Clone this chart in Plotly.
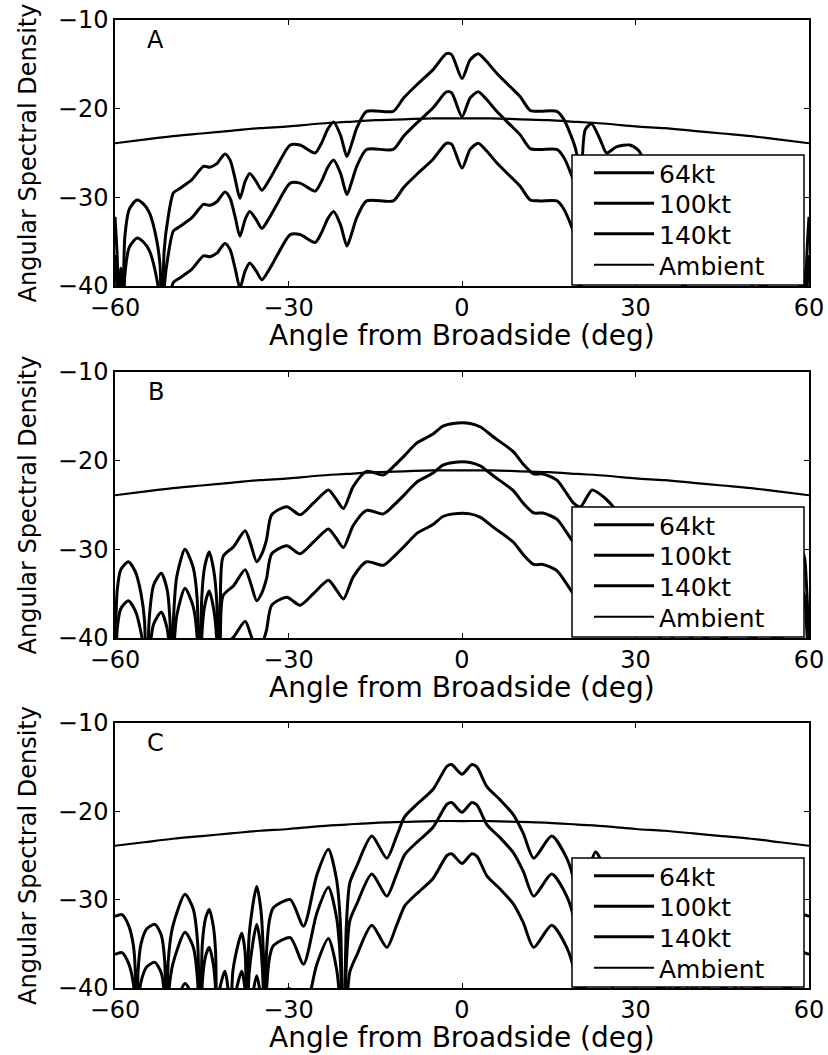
import plotly.graph_objects as go

W, H = 828, 1055

# ---------------- data ----------------
x_ticks = [-60, -30, 0, 30, 60]
y_ticks = [-40, -30, -20, -10]
legend_names = ["64kt", "100kt", "140kt", "Ambient"]
panel_letters = ["A", "B", "C"]
x_title = "Angle from Broadside (deg)"
y_title = "Angular Spectral Density"

# Panel A
angle_a = [-60, -59.6, -59.3, -59.0, -58.7, -58.3, -57.5, -56.2, -55, -54, -52.8, -52.2, -51.9, -51.5,
           -50.8, -49.9, -48.8, -46.7, -44.7, -43.6, -42.4, -41, -40.1, -39.2, -38.4, -37.5, -36.7,
           -35.6, -34.6, -33.3, -32.0, -29.7, -28.0, -25.4, -24.3, -23.2, -22.2, -21.0, -19.9, -19.0,
           -18.2, -16.5, -11.9, -10.1, -7.8, -5.0, -2.7, -1.8, 0, 1.4, 2.8, 4.3, 6.0, 8.3, 10.0, 11.8,
           13.5, 16.4, 17.5, 18.7, 19.8, 20.3, 21.3, 22.4, 23.9, 25.0, 26.7, 29.0, 30.5, 32.0, 34.6,
           36.7, 38.4, 40.1, 41.0, 42.4, 43.6, 44.7, 46.7, 48.8, 49.9, 50.8, 51.5, 51.9, 52.2, 52.8,
           54, 55, 56.2, 57.5, 58.3, 58.7, 59.0, 59.3, 59.6, 60]
a_140kt = [-32.2, -37, -48, -38, -48, -34.5, -31.3, -30.3, -30.8, -31.8, -34.8, -37.8, -50, -36,
           -32.2, -29.5, -29.0, -28.0, -26.5, -26.6, -26.2, -25.1, -25.8, -28.0, -30.1, -28.2, -27.3,
           -28.2, -29.2, -28.0, -26.5, -24.1, -24.1, -25.0, -23.9, -22.3, -21.5, -23.0, -25.4, -23.8,
           -22.2, -20.3, -20.3, -18.8, -17.3, -15.6, -13.8, -13.9, -16.6, -14.5, -13.8, -14.7, -16.0,
           -17.5, -18.6, -20.2, -20.3, -20.3, -21.1, -22.8, -25.0, -45, -22.4, -21.7, -23.5, -25.0,
           -24.3, -24.1, -24.7, -26.5, -29.2, -27.3, -30.1, -26.5, -26.0, -26.5, -26.8, -26.8, -28.0,
           -29.0, -29.5, -32.2, -36, -50, -37.8, -34.8, -31.8, -30.8, -30.3, -31.3, -34.5, -48, -38,
           -48, -37, -32.2]
a_100kt = [-36.5, -41.3, -52.3, -42.3, -52.3, -38.8, -35.6, -34.6, -35.1, -36.1, -39.1, -42.1, -54.3,
           -40.3, -36.5, -33.8, -33.3, -32.3, -30.8, -30.9, -30.5, -29.4, -30.1, -32.3, -34.4, -32.5,
           -31.6, -32.5, -33.5, -32.3, -30.8, -28.4, -28.4, -29.3, -28.2, -26.6, -25.8, -27.3, -29.7,
           -28.1, -26.5, -24.6, -24.6, -23.1, -21.6, -19.9, -18.1, -18.2, -20.9, -18.8, -18.1, -19.0,
           -20.3, -21.8, -22.9, -24.5, -24.6, -24.6, -25.4, -27.1, -29.3, -49.3, -26.7, -26.0, -27.8,
           -29.3, -28.6, -28.4, -29.0, -30.8, -33.5, -31.6, -34.4, -30.8, -30.3, -30.8, -31.1, -31.1,
           -32.3, -33.3, -33.8, -36.5, -40.3, -54.3, -42.1, -39.1, -36.1, -35.1, -34.6, -35.6, -38.8,
           -52.3, -42.3, -52.3, -41.3, -36.5]
a_64kt = [-42.3, -47.1, -58.1, -48.1, -58.1, -44.6, -41.4, -40.4, -40.9, -41.9, -44.9, -47.9, -60.1,
          -46.1, -42.3, -39.6, -39.1, -38.1, -36.6, -36.7, -36.3, -35.2, -35.9, -38.1, -40.2, -38.3,
          -37.4, -38.3, -39.3, -38.1, -36.6, -34.2, -34.2, -35.1, -34.0, -32.4, -31.6, -33.1, -35.5,
          -33.9, -32.3, -30.4, -30.4, -28.9, -27.4, -25.7, -23.9, -24.0, -26.7, -24.6, -23.9, -24.8,
          -26.1, -27.6, -28.7, -30.3, -30.4, -30.4, -31.2, -32.9, -35.1, -55.1, -32.5, -31.8, -33.6,
          -35.1, -34.4, -34.2, -34.8, -36.6, -39.3, -37.4, -40.2, -36.6, -36.1, -36.6, -36.9, -36.9,
          -38.1, -39.1, -39.6, -42.3, -46.1, -60.1, -47.9, -44.9, -41.9, -40.9, -40.4, -41.4, -44.6,
          -58.1, -48.1, -58.1, -47.1, -42.3]

# Panel B
angle_b = [-60, -59.6, -59.0, -57.7, -56.5, -55.5, -54.9, -54.5, -54.1, -53.3, -52.0, -51.0, -50.5,
           -50.2, -49.9, -49.3, -47.9, -46.5, -45.8, -45.4, -45.0, -44.5, -43.7, -42.9, -42.4, -42.1,
           -41.8, -41.3, -39.5, -37.5, -36.5, -35.5, -34.6, -33.8, -32.9, -30.3, -28.0, -25.7, -23.1,
           -21.8, -20.5, -18.8, -16.5, -13.6, -11.6, -9.9, -7.8, -5.0, -3.3, -1.5, 1.4, 3.2, 5.4, 8.9,
           10.6, 12.4, 14.0, 16.4, 18.1, 19.3, 20.5, 22.5, 24.5, 25.9, 28.0, 30.3, 32.9, 33.8, 34.6,
           35.5, 36.5, 37.5, 39.5, 41.3, 41.8, 42.1, 42.4, 42.9, 43.7, 44.5, 45.0, 45.4, 45.8, 46.5,
           47.9, 49.3, 49.9, 50.2, 50.5, 51.0, 52.0, 53.3, 54.1, 54.5, 54.9, 55.5, 56.5, 57.7, 59.0,
           59.6, 60]
b_140kt = [-42, -34.5, -32.3, -31.4, -32.5, -35, -38, -50, -38, -34, -32.7, -34.5, -38, -50, -38, -33,
           -30.0, -32, -35.5, -50, -35.5, -32, -30.3, -32.5, -36, -50, -36, -30.8, -29.7, -27.9, -29.5,
           -31.4, -30.5, -28.9, -26.1, -25.2, -26.1, -24.8, -23.3, -24.3, -25.4, -22.9, -21.2, -21.6,
           -20.5, -19.4, -18.0, -17.0, -16.1, -15.8, -15.8, -16.2, -17.3, -19.0, -20.4, -21.5, -21.5,
           -22.2, -23.7, -24.8, -25.2, -23.3, -24.1, -25.0, -26.6, -25.8, -26.5, -28.9, -30.5, -31.4,
           -29.5, -27.9, -29.7, -30.8, -36, -50, -36, -32.5, -30.3, -32, -35.5, -50, -35.5, -32, -30.0,
           -33, -38, -50, -38, -34.5, -32.7, -34, -38, -50, -38, -35, -32.5, -31.4, -30.5, -34.5, -42]
b_100kt = [-46.4, -38.9, -36.7, -35.8, -36.9, -39.4, -42.4, -54.4, -42.4, -38.4, -37.1, -38.9, -42.4,
           -54.4, -42.4, -37.4, -34.4, -36.4, -39.9, -54.4, -39.9, -36.4, -34.7, -36.9, -40.4, -54.4,
           -40.4, -35.2, -34.1, -32.3, -33.9, -35.8, -34.9, -33.3, -30.5, -29.6, -30.5, -29.2, -27.7,
           -28.7, -29.8, -27.3, -25.6, -26.0, -24.9, -23.8, -22.4, -21.4, -20.5, -20.2, -20.2, -20.6,
           -21.7, -23.4, -24.8, -25.9, -25.9, -26.6, -28.1, -29.2, -29.6, -27.7, -28.5, -29.4, -31.0,
           -30.2, -30.9, -33.3, -34.9, -35.8, -33.9, -32.3, -34.1, -35.2, -40.4, -54.4, -40.4, -36.9,
           -34.7, -36.4, -39.9, -54.4, -39.9, -36.4, -34.4, -37.4, -42.4, -54.4, -42.4, -38.9, -37.1,
           -38.4, -42.4, -54.4, -42.4, -39.4, -36.9, -35.8, -34.9, -38.9, -46.4]
b_64kt = [-52.2, -44.7, -42.5, -41.6, -42.7, -45.2, -48.2, -60.2, -48.2, -44.2, -42.9, -44.7, -48.2,
          -60.2, -48.2, -43.2, -40.2, -42.2, -45.7, -60.2, -45.7, -42.2, -40.5, -42.7, -46.2, -60.2,
          -46.2, -41.0, -39.9, -38.1, -39.7, -41.6, -40.7, -39.1, -36.3, -35.4, -36.3, -35.0, -33.5,
          -34.5, -35.6, -33.1, -31.4, -31.8, -30.7, -29.6, -28.2, -27.2, -26.3, -26.0, -26.0, -26.4,
          -27.5, -29.2, -30.6, -31.7, -31.7, -32.4, -33.9, -35.0, -35.4, -33.5, -34.3, -35.2, -36.8,
          -36.0, -36.7, -39.1, -40.7, -41.6, -39.7, -38.1, -39.9, -41.0, -46.2, -60.2, -46.2, -42.7,
          -40.5, -42.2, -45.7, -60.2, -45.7, -42.2, -40.2, -43.2, -48.2, -60.2, -48.2, -44.7, -42.9,
          -44.2, -48.2, -60.2, -48.2, -45.2, -42.7, -41.6, -40.7, -44.7, -52.2]

# Panel C
angle_c = [-60, -58.8, -57.6, -56.8, -56.5, -56.3, -56.0, -55.5, -54.5, -53.1, -52.0, -51.4, -51.1,
           -50.8, -50.0, -47.9, -46.5, -45.7, -45.3, -44.9, -44.3, -43.7, -43.0, -42.6, -42.4, -42.0,
           -41.0, -40.4, -40.1, -39.6, -38.1, -37.5, -37.2, -36.8, -35.5, -34.8, -34.3, -34.1, -33.8,
           -33.2, -32.6, -29.7, -27.4, -25.1, -23.1, -21.7, -21.0, -20.5, -20.0, -19.4, -18.2, -15.6,
           -13.0, -11.3, -9.9, -7.8, -5.0, -2.6, -1.8, 0, 1.7, 2.6, 4.3, 6.6, 8.9, 10.6, 12.4, 15.5,
           18.1, 19.4, 20.0, 20.5, 21.0, 21.7, 23.1, 25.1, 27.4, 29.7, 32.6, 33.2, 33.8, 34.1, 34.3,
           34.8, 35.5, 36.8, 37.2, 37.5, 38.1, 39.6, 40.1, 40.4, 41.0, 42.0, 42.4, 42.6, 43.0, 43.7,
           44.3, 44.9, 45.3, 45.7, 46.5, 47.9, 50.0, 50.8, 51.1, 51.4, 52.0, 53.1, 54.5, 55.5, 56.0,
           56.3, 56.5, 56.8, 57.6, 58.8, 60]
c_140kt = [-31.9, -31.7, -33.0, -35.3, -38, -50, -38, -35, -33.3, -32.8, -34, -37, -50, -37, -33,
           -29.4, -31.0, -35, -50, -35, -32, -31.1, -33, -36, -50, -40.5, -38.1, -40.5, -50, -38,
           -33.8, -36, -50, -34, -28.5, -31, -37, -50, -36, -32, -30.9, -30.0, -33.0, -27.2, -24.3,
           -27.7, -33, -50, -33, -28.1, -26.2, -22.8, -25.3, -22.8, -20.6, -19.2, -17.5, -14.9, -14.7,
           -15.8, -14.7, -15.0, -17.2, -18.7, -20.4, -22.5, -25.3, -22.8, -25.3, -28.1, -33, -50, -33,
           -27.7, -24.6, -27.2, -33.0, -30.0, -30.9, -32, -36, -50, -37, -31, -28.5, -34, -50, -36,
           -33.8, -38, -50, -40.5, -38.1, -40.5, -50, -36, -33, -31.1, -32, -35, -50, -35, -31.0,
           -29.4, -33, -37, -50, -37, -34, -32.8, -33.3, -35, -38, -50, -38, -35.3, -33.0, -31.7,
           -31.9]
c_100kt = [-36.2, -36.0, -37.3, -39.6, -42.3, -54.3, -42.3, -39.3, -37.6, -37.1, -38.3, -41.3, -54.3,
           -41.3, -37.3, -33.7, -35.3, -39.3, -54.3, -39.3, -36.3, -35.4, -37.3, -40.3, -54.3, -44.8,
           -42.4, -44.8, -54.3, -42.3, -38.1, -40.3, -54.3, -38.3, -32.8, -35.3, -41.3, -54.3, -40.3,
           -36.3, -35.2, -34.3, -37.3, -31.5, -28.6, -32.0, -37.3, -54.3, -37.3, -32.4, -30.5, -27.1,
           -29.6, -27.1, -24.9, -23.5, -21.8, -19.2, -19.0, -20.1, -19.0, -19.3, -21.5, -23.0, -24.7,
           -26.8, -29.6, -27.1, -29.6, -32.4, -37.3, -54.3, -37.3, -32.0, -28.9, -31.5, -37.3, -34.3,
           -35.2, -36.3, -40.3, -54.3, -41.3, -35.3, -32.8, -38.3, -54.3, -40.3, -38.1, -42.3, -54.3,
           -44.8, -42.4, -44.8, -54.3, -40.3, -37.3, -35.4, -36.3, -39.3, -54.3, -39.3, -35.3, -33.7,
           -37.3, -41.3, -54.3, -41.3, -38.3, -37.1, -37.6, -39.3, -42.3, -54.3, -42.3, -39.6, -37.3,
           -36.0, -36.2]
c_64kt = [-42.0, -41.8, -43.1, -45.4, -48.1, -60.1, -48.1, -45.1, -43.4, -42.9, -44.1, -47.1, -60.1,
          -47.1, -43.1, -39.5, -41.1, -45.1, -60.1, -45.1, -42.1, -41.2, -43.1, -46.1, -60.1, -50.6,
          -48.2, -50.6, -60.1, -48.1, -43.9, -46.1, -60.1, -44.1, -38.6, -41.1, -47.1, -60.1, -46.1,
          -42.1, -41.0, -40.1, -43.1, -37.3, -34.4, -37.8, -43.1, -60.1, -43.1, -38.2, -36.3, -32.9,
          -35.4, -32.9, -30.7, -29.3, -27.6, -25.0, -24.8, -25.9, -24.8, -25.1, -27.3, -28.8, -30.5,
          -32.6, -35.4, -32.9, -35.4, -38.2, -43.1, -60.1, -43.1, -37.8, -34.7, -37.3, -43.1, -40.1,
          -41.0, -42.1, -46.1, -60.1, -47.1, -41.1, -38.6, -44.1, -60.1, -46.1, -43.9, -48.1, -60.1,
          -50.6, -48.2, -50.6, -60.1, -46.1, -43.1, -41.2, -42.1, -45.1, -60.1, -45.1, -41.1, -39.5,
          -43.1, -47.1, -60.1, -47.1, -44.1, -42.9, -43.4, -45.1, -48.1, -60.1, -48.1, -45.4, -43.1,
          -41.8, -42.0]

# Ambient noise level (same in every panel)
ambient_angle = [-60, -55, -50, -45, -40, -35, -30, -25, -20, -15, -10, -5, 0,
                 5, 10, 15, 20, 25, 30, 35, 40, 45, 50, 55, 60]
ambient_level = [-23.9, -23.5, -23.1, -22.8, -22.5, -22.2, -22.0, -21.7, -21.5, -21.3, -21.2, -21.1,
                 -21.1, -21.1, -21.2, -21.3, -21.5, -21.7, -22.0, -22.2, -22.5, -22.8, -23.1, -23.5,
                 -23.9]

panels = [
    (angle_a, a_64kt, a_100kt, a_140kt),
    (angle_b, b_64kt, b_100kt, b_140kt),
    (angle_c, c_64kt, c_100kt, c_140kt),
]

# ---------------- layout geometry (window pixels) ----------------
FONT = "DejaVu Sans, Arial, sans-serif"


def px_x(p):
    return p / W


def px_y(p):
    return 1 - p / H


plot_left, plot_right = 115, 809
plot_tops = [20, 372, 723]
plot_bottoms = [286, 638, 988]
xtitle_centers = [335, 687, 1037]
box_left, box_right = 572, 804
box_tops = [155, 507, 858]
box_bottoms = [285, 637, 987]
legend_x = 589
row_offsets = [18, 48.5, 79, 110]   # legend row centres below the frame top
line_widths = [3, 3, 3, 2.2]

fig = go.Figure()
layout = dict(
    width=W, height=H,
    margin=dict(l=0, r=0, t=0, b=0, autoexpand=False),
    paper_bgcolor="white", plot_bgcolor="white",
    font=dict(family=FONT, color="black"),
    showlegend=True,
    annotations=[], shapes=[],
)

leg_count = 0
for i, (ang, s64, s100, s140) in enumerate(panels):
    n = i + 1
    xa = "x" if n == 1 else f"x{n}"
    ya = "y" if n == 1 else f"y{n}"
    series = [(ang, s64), (ang, s100), (ang, s140), (ambient_angle, ambient_level)]
    for k, (xs, ys) in enumerate(series):
        leg_count += 1
        lg = "legend" if leg_count == 1 else f"legend{leg_count}"
        fig.add_trace(go.Scatter(x=xs, y=ys, mode="lines", name=legend_names[k], showlegend=True,
                                 line=dict(color="black", width=line_widths[k], shape="spline",
                                           smoothing=0.7 if k < 3 else 1),
                                 xaxis=xa, yaxis=ya, legend=lg))
        layout[lg] = dict(
            x=px_x(legend_x), xanchor="left",
            y=px_y(box_tops[i] + row_offsets[k]), yanchor="middle",
            bgcolor="rgba(0,0,0,0)", borderwidth=0,
            font=dict(size=25, family=FONT, color="black"),
            itemwidth=60, visible=True,
        )

    xk = "xaxis" if n == 1 else f"xaxis{n}"
    yk = "yaxis" if n == 1 else f"yaxis{n}"
    layout[xk] = dict(
        domain=[px_x(plot_left), px_x(plot_right)], anchor=ya, automargin=False,
        range=[-60, 60], tickmode="array", tickvals=x_ticks,
        ticks="inside", ticklen=5, tickwidth=1.2, tickcolor="black",
        showline=True, linecolor="black", linewidth=1.5, mirror="ticks",
        showgrid=False, zeroline=False,
        tickfont=dict(size=24, family=FONT, color="black"),
        ticklabelstandoff=-1, ticklabeloverflow="allow",
    )
    layout[yk] = dict(
        domain=[px_y(plot_bottoms[i]), px_y(plot_tops[i])], anchor=xa, automargin=False,
        range=[-40, -10], tickmode="array", tickvals=y_ticks,
        ticks="inside", ticklen=5, tickwidth=1.2, tickcolor="black",
        showline=True, linecolor="black", linewidth=1.5, mirror="ticks",
        showgrid=False, zeroline=False,
        tickfont=dict(size=24, family=FONT, color="black"),
        ticklabelstandoff=0, ticklabeloverflow="allow",
        title=dict(text=y_title, font=dict(size=24, family=FONT), standoff=14),
    )
    # x-axis title placed under the tick labels
    layout["annotations"].append(dict(
        text=x_title, xref="paper", yref="paper",
        x=px_x((plot_left + plot_right) / 2), y=px_y(xtitle_centers[i]),
        xanchor="center", yanchor="middle", showarrow=False,
        font=dict(size=28, family=FONT, color="black"),
    ))
    # legend frame (opaque, covers the curves behind it)
    layout["shapes"].append(dict(
        type="rect", xref="paper", yref="paper", layer="above",
        x0=px_x(box_left), x1=px_x(box_right), y0=px_y(box_bottoms[i]), y1=px_y(box_tops[i]),
        line=dict(color="black", width=1.5), fillcolor="white",
    ))
    layout["annotations"].append(dict(
        text=panel_letters[i], xref=f"{xa} domain", yref=f"{ya} domain",
        x=0.059, y=0.925, xanchor="center", yanchor="middle",
        showarrow=False, font=dict(size=24, family=FONT, color="black"),
    ))

fig.update_layout(**layout)
fig.write_html("out.html", config={"displayModeBar": False},
               post_script="document.body.style.margin='0px';")
